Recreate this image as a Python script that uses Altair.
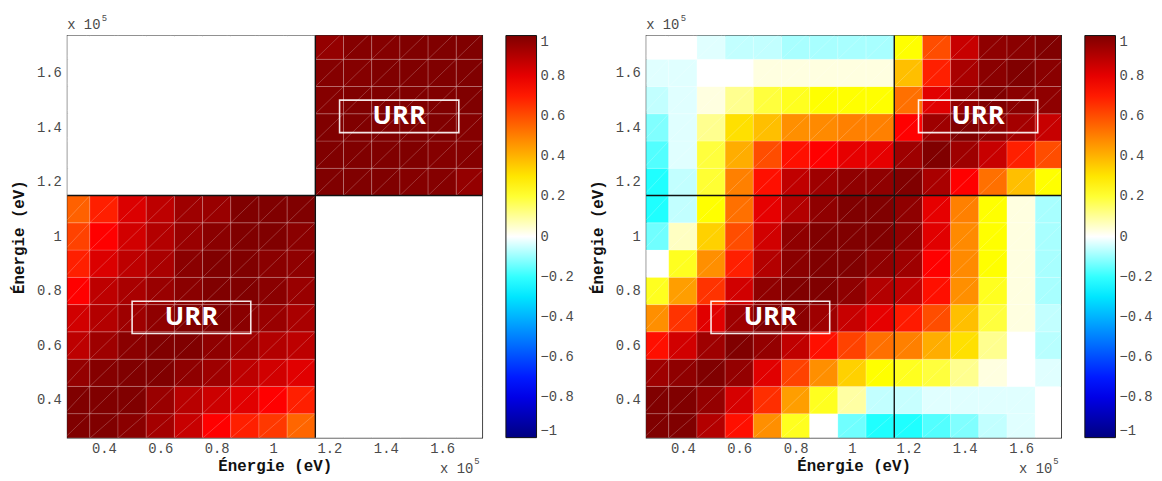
import altair as alt
import pandas as pd

# ---- data -------------------------------------------------------------
# energy bin edges (units of 1e5 eV)
edges = [0.26, 0.35, 0.45, 0.55, 0.65, 0.75, 0.85, 0.95, 1.05, 1.15,
         1.25, 1.35, 1.45, 1.55, 1.65, 1.75]
block_edge = [1.15]
tick_vals = [0.4, 0.6, 0.8, 1.0, 1.2, 1.4, 1.6]
cbar_vals = [1, 0.8, 0.6, 0.4, 0.2, 0, -0.2, -0.4, -0.6, -0.8, -1]

# left panel: block-diagonal correlation matrix, rows from bottom (low energy)
left_rows = [
    [1.00, 1.00, 0.98, 0.93, 0.86, 0.75, 0.69, 0.64, 0.55, 0, 0, 0, 0, 0, 0],
    [1.00, 1.00, 1.00, 0.95, 0.89, 0.85, 0.81, 0.75, 0.69, 0, 0, 0, 0, 0, 0],
    [0.96, 0.99, 1.00, 1.00, 0.97, 0.94, 0.88, 0.84, 0.81, 0, 0, 0, 0, 0, 0],
    [0.88, 0.94, 0.98, 1.00, 1.00, 0.97, 0.94, 0.90, 0.88, 0, 0, 0, 0, 0, 0],
    [0.84, 0.90, 0.94, 0.97, 1.00, 1.00, 0.98, 0.95, 0.92, 0, 0, 0, 0, 0, 0],
    [0.75, 0.88, 0.92, 0.95, 0.98, 1.00, 1.00, 0.98, 0.95, 0, 0, 0, 0, 0, 0],
    [0.69, 0.82, 0.88, 0.92, 0.98, 1.00, 1.00, 0.98, 0.97, 0, 0, 0, 0, 0, 0],
    [0.62, 0.75, 0.84, 0.90, 0.95, 0.98, 1.00, 1.00, 0.98, 0, 0, 0, 0, 0, 0],
    [0.56, 0.69, 0.82, 0.88, 0.94, 0.95, 1.00, 1.00, 1.00, 0, 0, 0, 0, 0, 0],
    [0, 0, 0, 0, 0, 0, 0, 0, 0, 1.00, 1.00, 1.00, 0.99, 0.99, 0.96],
    [0, 0, 0, 0, 0, 0, 0, 0, 0, 1.00, 1.00, 1.00, 1.00, 0.99, 0.99],
    [0, 0, 0, 0, 0, 0, 0, 0, 0, 1.00, 1.00, 1.00, 1.00, 1.00, 0.99],
    [0, 0, 0, 0, 0, 0, 0, 0, 0, 0.99, 1.00, 1.00, 1.00, 1.00, 1.00],
    [0, 0, 0, 0, 0, 0, 0, 0, 0, 0.99, 0.99, 1.00, 1.00, 1.00, 1.00],
    [0, 0, 0, 0, 0, 0, 0, 0, 0, 0.96, 0.99, 0.99, 1.00, 1.00, 1.00],
]

# right panel: full correlation matrix, rows from bottom
right_rows = [
    [1.00, 1.00, 0.90, 0.72, 0.47, 0.22, 0.00, -0.14, -0.22, -0.22, -0.17, -0.125, -0.06, -0.03, 0.00],
    [1.00, 1.00, 0.96, 0.83, 0.66, 0.44, 0.22, 0.09, -0.06, -0.055, -0.03, -0.03, -0.03, -0.03, 0.00],
    [0.94, 0.97, 1.00, 0.96, 0.81, 0.62, 0.47, 0.34, 0.25, 0.22, 0.19, 0.11, 0.03, 0.00, -0.03],
    [0.72, 0.84, 0.94, 1.00, 0.96, 0.875, 0.72, 0.62, 0.53, 0.50, 0.41, 0.31, 0.11, 0.00, -0.07],
    [0.47, 0.65, 0.81, 0.94, 1.00, 0.98, 0.94, 0.86, 0.80, 0.70, 0.60, 0.375, 0.19, 0.03, -0.06],
    [0.22, 0.44, 0.65, 0.84, 0.97, 1.00, 1.00, 0.97, 0.90, 0.875, 0.72, 0.47, 0.22, 0.03, -0.085],
    [0.00, 0.22, 0.47, 0.69, 0.90, 0.98, 1.00, 1.00, 0.97, 0.94, 0.75, 0.48, 0.25, 0.03, -0.085],
    [-0.14, 0.06, 0.34, 0.60, 0.84, 0.97, 1.00, 1.00, 1.00, 0.97, 0.81, 0.48, 0.25, 0.03, -0.085],
    [-0.22, -0.06, 0.25, 0.53, 0.80, 0.90, 0.97, 1.00, 1.00, 0.97, 0.80, 0.50, 0.25, 0.03, -0.085],
    [-0.22, -0.06, 0.20, 0.50, 0.72, 0.875, 0.94, 0.97, 0.97, 1.00, 0.92, 0.75, 0.53, 0.375, 0.25],
    [-0.17, -0.03, 0.19, 0.41, 0.60, 0.72, 0.75, 0.80, 0.80, 0.94, 1.00, 0.94, 0.86, 0.69, 0.60],
    [-0.125, -0.03, 0.11, 0.31, 0.375, 0.47, 0.48, 0.50, 0.50, 0.75, 0.94, 1.00, 0.97, 0.93, 0.86],
    [-0.06, -0.03, 0.03, 0.11, 0.19, 0.22, 0.25, 0.25, 0.25, 0.53, 0.81, 0.96, 1.00, 0.98, 0.97],
    [-0.03, -0.03, 0.00, 0.00, 0.03, 0.03, 0.03, 0.03, 0.03, 0.375, 0.69, 0.92, 0.98, 1.00, 0.98],
    [0.00, 0.00, -0.03, -0.06, -0.06, -0.085, -0.085, -0.085, -0.085, 0.25, 0.60, 0.86, 0.97, 0.98, 1.00],
]

# URR annotation boxes (data coordinates, units of 1e5 eV)
box_x0 = [0.500, 1.236]
box_x1 = [0.921, 1.659]
box_y0 = [0.644, 1.381]
box_y1 = [0.762, 1.500]
box_label = ["URR", "URR"]

# colormap (jet-like with white at zero)
cmap_domain = [-1, -0.75, -0.25, 0, 0.25, 0.75, 1]
cmap_range = ["#000080", "#0000ff", "#00ffff", "#ffffff", "#ffff00", "#ff0000", "#800000"]

# ---- styling ------------------------------------------------------------
W, H = 420, 407
XDOM = [0.27, 1.742]
YDOM = [0.262, 1.737]
MONO = "Liberation Mono"
LABEL_COLOR = "#4a4a4a"


def cells(rows):
    recs = []
    for j, row in enumerate(rows):
        for i, v in enumerate(row):
            recs.append({"x0": edges[i], "x1": edges[i + 1],
                         "y0": edges[j], "y1": edges[j + 1], "v": v})
    return pd.DataFrame(recs)


boxes = pd.DataFrame({"x0": box_x0, "x1": box_x1, "y0": box_y0, "y1": box_y1,
                      "label": box_label,
                      "cx": [(a + b) / 2 for a, b in zip(box_x0, box_x1)],
                      "cy": [(a + b) / 2 for a, b in zip(box_y0, box_y1)]})
bdf = pd.DataFrame({"b": block_edge})

xscale = alt.Scale(domain=XDOM, nice=False, zero=False)
yscale = alt.Scale(domain=YDOM, nice=False, zero=False)
xaxis = alt.Axis(values=tick_vals, format="~g", title="Énergie (eV)",
                 labelFont=MONO, labelFontSize=14, labelColor=LABEL_COLOR,
                 labelPadding=4, ticks=False, domain=False, grid=False,
                 titleFont=MONO, titleFontSize=16, titleFontWeight="bold",
                 titleColor="#111", titlePadding=2, labelFlush=False)
yaxis = alt.Axis(values=tick_vals, format="~g", title="Énergie (eV)",
                 labelFont=MONO, labelFontSize=14, labelColor=LABEL_COLOR,
                 labelPadding=6, ticks=False, domain=False, grid=False,
                 titleFont=MONO, titleFontSize=16, titleFontWeight="bold",
                 titleColor="#111", titlePadding=10, labelFlush=False)


def panel(rows):
    df = cells(rows)
    X = alt.X("x0:Q", scale=xscale, axis=xaxis)
    Y = alt.Y("y0:Q", scale=yscale, axis=yaxis)
    heat = alt.Chart(df).mark_rect(clip=True, stroke="white", strokeOpacity=0.22,
                                   strokeWidth=0.8).encode(
        x=X, x2="x1:Q", y=Y, y2="y1:Q",
        color=alt.Color("v:Q",
                        scale=alt.Scale(domain=cmap_domain, range=cmap_range,
                                        interpolate="rgb"),
                        legend=alt.Legend(title=None, values=cbar_vals, format="~g",
                                          orient="right", direction="vertical",
                                          gradientLength=H, gradientThickness=31,
                                          gradientStrokeColor="#111",
                                          gradientStrokeWidth=1,
                                          labelFont=MONO, labelFontSize=14,
                                          labelColor=LABEL_COLOR, labelOffset=4,
                                          offset=24, padding=0)))
    diag = alt.Chart(df).mark_rule(clip=True, color="white", opacity=0.3,
                                   strokeWidth=0.7).encode(
        x=X, x2="x1:Q", y=Y, y2="y1:Q")
    vline = alt.Chart(bdf).mark_rule(color="#111", strokeWidth=1.4).encode(
        x=alt.X("b:Q", scale=xscale, axis=xaxis))
    hline = alt.Chart(bdf).mark_rule(color="#111", strokeWidth=1.4).encode(
        y=alt.Y("b:Q", scale=yscale, axis=yaxis))
    box = alt.Chart(boxes).mark_rect(fillOpacity=0, stroke="white",
                                     strokeWidth=1.6, strokeOpacity=0.9).encode(
        x=alt.X("x0:Q", scale=xscale, axis=xaxis), x2="x1:Q",
        y=alt.Y("y0:Q", scale=yscale, axis=yaxis), y2="y1:Q")
    txt = alt.Chart(boxes).mark_text(font="Open Sans", fontSize=26,
                                     fontWeight="bold", color="white",
                                     baseline="middle", align="center").encode(
        x=alt.X("cx:Q", scale=xscale, axis=xaxis),
        y=alt.Y("cy:Q", scale=yscale, axis=yaxis), text="label:N")
    one = pd.DataFrame({"t": ["x 10"]})
    top_x = alt.Chart(one).mark_text(font=MONO, fontSize=14, color=LABEL_COLOR,
                                     align="left", baseline="alphabetic").encode(
        x=alt.value(0), y=alt.value(-7), text="t:N")
    top_e = alt.Chart(one).mark_text(font=MONO, fontSize=9, color=LABEL_COLOR,
                                     align="left", baseline="alphabetic").encode(
        x=alt.value(35), y=alt.value(-15), text=alt.value("5"))
    bot_x = alt.Chart(one).mark_text(font=MONO, fontSize=14, color=LABEL_COLOR,
                                     align="right", baseline="alphabetic").encode(
        x=alt.value(411), y=alt.value(443), text="t:N")
    bot_e = alt.Chart(one).mark_text(font=MONO, fontSize=9, color=LABEL_COLOR,
                                     align="left", baseline="alphabetic").encode(
        x=alt.value(412), y=alt.value(434), text=alt.value("5"))
    return alt.layer(heat, diag, vline, hline, box, txt, top_x, top_e, bot_x,
                     bot_e).properties(width=W, height=H)


chart = alt.hconcat(panel(left_rows), panel(right_rows), spacing=14).resolve_legend(
    color="independent").resolve_scale(color="independent").configure_view(
    stroke="#222", strokeWidth=1.3).properties(
    padding={"left": 2, "top": 2, "right": 0, "bottom": 0}, background="white")

chart.save("out.html", embed_options={"renderer": "svg", "actions": False})
